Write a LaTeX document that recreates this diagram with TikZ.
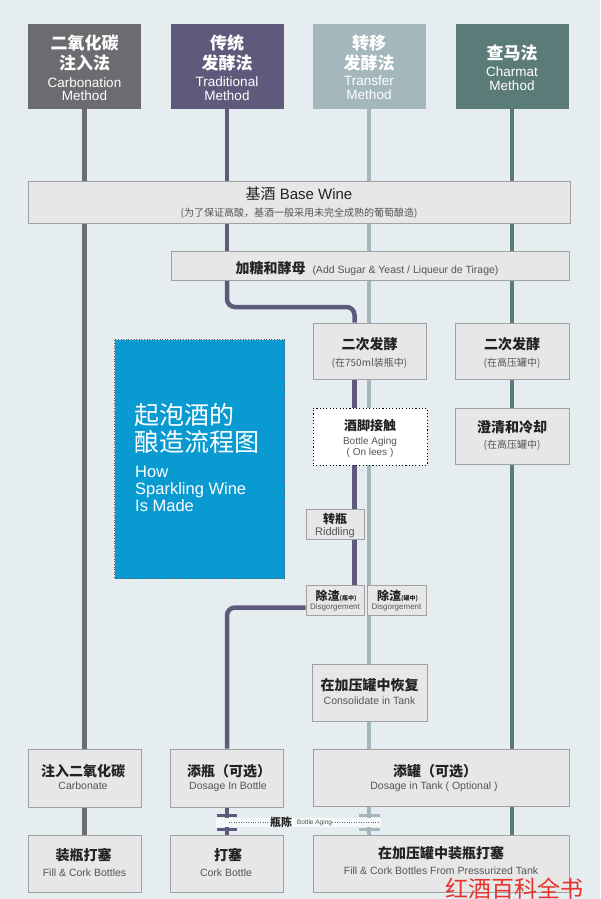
\documentclass[tikz,border=0pt]{standalone}
\usepackage{fontspec}
\setmainfont{Liberation Sans}
\newfontfamily\cjk{Noto Sans CJK SC}
\usetikzlibrary{calc}
\pgfdeclarelayer{bg}
\pgfsetlayers{bg,main}
\definecolor{bgc}{HTML}{E5EDF0}
\definecolor{cgray}{HTML}{6C6C70}
\definecolor{cpurp}{HTML}{5F5A7C}
\definecolor{clight}{HTML}{A3B7BC}
\definecolor{cteal}{HTML}{5B7B78}
\definecolor{boxfill}{HTML}{E7E7E7}
\definecolor{boxline}{HTML}{A0A0A0}
\definecolor{zhc}{HTML}{222222}
\definecolor{enc}{HTML}{555555}
\definecolor{bluebox}{HTML}{0A9AD2}
\definecolor{wmc}{HTML}{E8322E}
\tikzset{
  box/.style={draw=boxline, fill=boxfill, line width=0.8pt, inner sep=0pt},
  hdr/.style={inner sep=0pt},
  lk/.style={line width=4.5pt},
  zhH/.style={inner sep=0pt, font=\cjk\bfseries\fontsize{17}{17}\selectfont, text=white, text height=12.2pt, text depth=0pt},
  enH/.style={inner sep=0pt, font=\fontsize{13.5}{13.5}\selectfont, text=white, text height=9.7pt, text depth=0pt},
  zhB/.style={inner sep=0pt, font=\cjk\bfseries\fontsize{14}{14}\selectfont, text=zhc, text height=10pt, text depth=0pt},
  enB/.style={inner sep=0pt, font=\fontsize{10.5}{10.5}\selectfont, text=enc, text height=7.6pt, text depth=0pt},
  zhS/.style={inner sep=0pt, font=\cjk\fontsize{10}{10}\selectfont, text=enc, text height=7.2pt, text depth=0pt},
  enS/.style={inner sep=0pt, font=\fontsize{10}{10}\selectfont, text=enc, text height=7.2pt, text depth=0pt},
  enT/.style={inner sep=0pt, font=\fontsize{8}{8}\selectfont, text=enc, text height=5.8pt, text depth=0pt},
  bluet/.style={inner sep=0pt, anchor=west, font=\cjk\fontsize{25}{25}\selectfont, text=white, text height=18pt, text depth=0pt},
  blueen/.style={inner sep=0pt, anchor=west, font=\fontsize{16.5}{16.5}\selectfont, text=white, text height=11.9pt, text depth=0pt},
}
\begin{document}
\begin{tikzpicture}[x=1pt,y=-1pt]
\useasboundingbox (0,0) rectangle (600,899);

% headers
\node[hdr, fill=cgray, minimum width=113pt, minimum height=85pt] (h1) at (84.5,66.5) {};
\node[hdr, fill=cpurp, minimum width=113pt, minimum height=85pt] (h2) at (227,66.5) {};
\node[hdr, fill=clight, minimum width=113pt, minimum height=85pt] (h3) at (369,66.5) {};
\node[hdr, fill=cteal, minimum width=113pt, minimum height=85pt] (h4) at (512,66.5) {};
\node[zhH] (h1a) at (84.5,43) {二氧化碳};
\node[zhH] (h1b) at (84.5,63) {注入法};
\node[enH] (h1c) at (84.5,83) {Carbonation};
\node[enH] (h1d) at (84.5,96) {Method};
\node[zhH] (h2a) at (227,43) {传统};
\node[zhH] (h2b) at (227,63) {发酵法};
\node[enH] (h2c) at (227,82) {Traditional};
\node[enH] (h2d) at (227,96) {Method};
\node[zhH] (h3a) at (369,43) {转移};
\node[zhH] (h3b) at (369,63) {发酵法};
\node[enH] (h3c) at (369,81) {Transfer};
\node[enH] (h3d) at (369,95) {Method};
\node[zhH] (h4a) at (512,53) {查马法};
\node[enH] (h4b) at (512,72) {Charmat};
\node[enH] (h4c) at (512,86) {Method};

% base wine
\node[box, minimum width=542pt, minimum height=42pt] (base) at (299,202) {};
\node[inner sep=0pt, font=\fontsize{15}{15}\selectfont, text=zhc, text height=10.8pt, text depth=0pt] (baseT) at (299,194) {{\cjk 基酒} Base Wine};
\node[zhS] (baseS) at (299,213) {(为了保证高酸，基酒一般采用未完全成熟的葡萄酿造)};

% sugar
\node[box, minimum width=398pt, minimum height=29pt] (sugar) at (370,265.5) {};
\node[inner sep=0pt, text=zhc, text height=10pt, text depth=0pt] (sugT) at (367,268) {{\cjk\bfseries\fontsize{14}{14}\selectfont 加糖和酵母}\hspace{7pt}{\fontsize{10.5}{10.5}\selectfont\color{enc}(Add Sugar \& Yeast / Liqueur de Tirage)}};

% second fermentation
\node[box, minimum width=113pt, minimum height=56pt] (sec1) at (369.5,351) {};
\node[zhB] (sec1a) at (369.5,344) {二次发酵};
\node[zhS] (sec1b) at (369.5,363) {(在750ml装瓶中)};
\node[box, minimum width=114pt, minimum height=56pt] (sec2) at (512,351) {};
\node[zhB] (sec2a) at (512,344) {二次发酵};
\node[zhS] (sec2b) at (512,363) {(在高压罐中)};

% bottle aging
\node[draw=black, fill=white, line width=1pt, dash pattern=on 1.1pt off 2.2pt, inner sep=0pt, minimum width=114pt, minimum height=57pt] (aging) at (370,436.5) {};
\node[inner sep=0pt, font=\cjk\bfseries\fontsize{13}{13}\selectfont, text=zhc, text height=9.4pt, text depth=0pt] (aginga) at (370,426) {酒脚接触};
\node[enS] (agingb) at (370,441) {Bottle Aging};
\node[enS] (agingc) at (370,452) {( On lees )};

% clarify
\node[box, minimum width=114pt, minimum height=56pt] (clar) at (512,436) {};
\node[zhB] (clara) at (512,427) {澄清和冷却};
\node[zhS] (clarb) at (512,445) {(在高压罐中)};

% riddling
\node[box, minimum width=58pt, minimum height=30pt] (riddle) at (335,524) {};
\node[inner sep=0pt, font=\cjk\bfseries\fontsize{12}{12}\selectfont, text=zhc, text height=8.6pt, text depth=0pt] (riddlea) at (335,519) {转瓶};
\node[inner sep=0pt, font=\fontsize{11}{11}\selectfont, text=enc, text height=7.9pt, text depth=0pt] (riddleb) at (335,532) {Riddling};

% disgorgement
\node[box, minimum width=58pt, minimum height=30pt] (disg1) at (335,600) {};
\node[inner sep=0pt, text=zhc, text height=8.6pt, text depth=0pt] (disg1a) at (336,596) {\cjk\bfseries{\fontsize{12}{12}\selectfont 除渣}{\fontsize{6}{6}\selectfont(瓶中)}};
\node[enT] (disg1b) at (335,607) {Disgorgement};
\node[box, minimum width=59pt, minimum height=30pt] (disg2) at (396.5,600) {};
\node[inner sep=0pt, text=zhc, text height=8.6pt, text depth=0pt] (disg2a) at (397.5,596) {\cjk\bfseries{\fontsize{12}{12}\selectfont 除渣}{\fontsize{6}{6}\selectfont(罐中)}};
\node[enT] (disg2b) at (396.5,607) {Disgorgement};

% consolidate
\node[box, minimum width=115pt, minimum height=57pt] (consol) at (369.5,692.5) {};
\node[zhB] (consola) at (369.5,685) {在加压罐中恢复};
\node[enB] (consolb) at (369.5,701) {Consolidate in Tank};

% dosage row
\node[box, minimum width=113pt, minimum height=58pt] (carb) at (84.5,778) {};
\node[zhB] (carba) at (83,771) {注入二氧化碳};
\node[enB] (carbb) at (83,786) {Carbonate};
\node[box, minimum width=113pt, minimum height=58pt] (dosB) at (227,778) {};
\node[zhB] (dosBa) at (229,771) {添瓶（可选）};
\node[enB] (dosBb) at (228,786) {Dosage In Bottle};
\node[box, minimum width=256pt, minimum height=57pt] (dosT) at (441,778) {};
\node[zhB] (dosTa) at (435,771) {添罐（可选）};
\node[enB] (dosTb) at (434,786) {Dosage in Tank ( Optional )};

% bottom row
\node[box, minimum width=113pt, minimum height=57pt] (fill) at (84.5,863.5) {};
\node[zhB] (filla) at (83.5,855) {装瓶打塞};
\node[enB] (fillb) at (84.5,873) {Fill \& Cork Bottles};
\node[box, minimum width=113pt, minimum height=57pt] (cork) at (227,863.5) {};
\node[zhB] (corka) at (228,855) {打塞};
\node[enB] (corkb) at (226,873) {Cork Bottle};
\node[box, minimum width=256pt, minimum height=57pt] (fillT) at (441,863.5) {};
\node[zhB] (fillTa) at (441,853) {在加压罐中装瓶打塞};
\node[enB] (fillTb) at (441,871) {Fill \& Cork Bottles From Pressurized Tank};

% blue title box
\node[draw=black!65, fill=bluebox, line width=1pt, dash pattern=on 1pt off 1.6pt, inner sep=0pt, minimum width=170pt, minimum height=239pt] (blue) at (199.5,459) {};
\node[bluet] (bluea) at (134,415) {起泡酒的};
\node[bluet] (blueb) at (134,442) {酿造流程图};
\node[blueen] (bluec) at (135,472) {How};
\node[blueen] (blued) at (135,489) {Sparkling Wine};
\node[blueen] (bluee) at (135,506) {Is Made};

% connectors (behind)
\coordinate (pA) at (227,307);
\coordinate (pB) at (354.5,307);
\coordinate (pC) at (227,607.5);
\begin{pgfonlayer}{bg}
  \fill[bgc] (0,0) rectangle (600,899);
  \draw[lk, cgray] (h1.south) -- (carb.north);
  \draw[lk, cgray] (carb.south) -- (fill.north);
  \draw[lk, cpurp] (h2.south) -- (sugar.north -| h2.south);
  \draw[lk, cpurp, rounded corners=8pt] (sugar.south -| pA) -- (pA) -- (pB) -- (sec1.north -| pB);
  \draw[lk, cpurp] (sec1.south -| pB) -- (riddle.north -| pB);
  \draw[lk, cpurp] (riddle.south -| pB) -- (disg1.north -| pB);
  \draw[lk, cpurp, rounded corners=8pt] (disg1.west |- pC) -- (pC) -- (dosB.north -| pC);
  \draw[lk, cpurp] (dosB.south) -- (cork.north);
  \draw[lk, clight] (h3.south) -- (fillT.north -| h3.south);
  \draw[lk, cteal] (h4.south) -- (fillT.north -| h4.south);
\end{pgfonlayer}

% bottle aging break symbol
\fill[white!70!bgc] (216,818) rectangle (381,827);
\draw[line width=3pt, cpurp] (217,815.5) -- (237,815.5) (217,829.5) -- (237,829.5);
\draw[line width=3pt, clight] (359,815.5) -- (380,815.5) (359,829.5) -- (380,829.5);
\node[inner sep=0pt, font=\cjk\bfseries\fontsize{11}{11}\selectfont, text=zhc, text height=7.9pt, text depth=0pt] (bc) at (281,822.5) {瓶陈};
\node[inner sep=0pt, font=\fontsize{6.5}{6.5}\selectfont, text=enc, text height=4.7pt, text depth=0pt] (bca) at (314.5,822.5) {Bottle Aging};
\draw[black!60, line width=0.8pt, dash pattern=on 0.8pt off 1.6pt] (229,822.5) -- (bc.west);
\draw[black!60, line width=0.8pt, dash pattern=on 0.8pt off 1.6pt] (bca.east) -- (378,822.5);

% watermark
\node[inner sep=0pt, font=\cjk\fontsize{23}{23}\selectfont, text=wmc, text height=16pt, text depth=0pt] (wm) at (514,889) {红酒百科全书};
\end{tikzpicture}
\end{document}
